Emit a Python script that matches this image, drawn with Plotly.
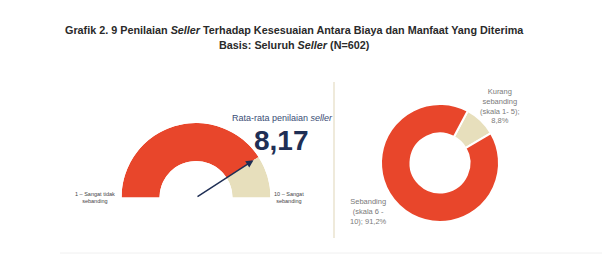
import math
import plotly.graph_objects as go

# ---- data ----
title_lines = ["<b>Grafik 2. 9 Penilaian <i>Seller</i> Terhadap Kesesuaian Antara Biaya dan Manfaat Yang Diterima</b>",
               "<b>Basis: Seluruh <i>Seller</i> (N=602)</b>"]
gauge_min, gauge_max = 0, 10
gauge_score = 8.17
gauge_score_label = "8,17"
gauge_caption = "Rata-rata penilaian <i>seller</i>"
gauge_end_labels = ["1 – Sangat tidak<br>sebanding", "10 – Sangat<br>sebanding"]
donut_labels = ["Kurang sebanding (skala 1- 5)", "Sebanding (skala 6 - 10)"]
donut_values = [8.8, 91.2]
donut_text = ["Kurang<br>sebanding<br>(skala 1- 5);<br>8,8%", "Sebanding<br>(skala 6 -<br>10); 91,2%"]

RED = "#E8462B"
BEIGE = "#E7DFBC"
NAVY = "#1F2F55"
GREY = "#7A7A7A"

W, H = 602, 259
# gauge geometry (pixels)
gcx, gcy, gR = 196, 197.5, 74.5
def px(x): return x / W
def py(y): return 1 - y / H

fig = go.Figure()

# gauge as polar bars
span_red = (gauge_score - gauge_min) / (gauge_max - gauge_min) * 180
span_rest = 180 - span_red
fig.add_trace(go.Barpolar(
    r=[1, 1], base=[0, 0],
    theta=[span_red / 2, span_red + span_rest / 2],
    width=[span_red, span_rest],
    marker=dict(color=[RED, BEIGE], line=dict(width=0)),
    hoverinfo="skip", showlegend=False, subplot="polar"))

fig.update_layout(polar=dict(
    domain=dict(x=[px(gcx - gR), px(gcx + gR)], y=[py(gcy), py(gcy - gR)]),
    sector=[0, 180], hole=0.49, bgcolor="rgba(0,0,0,0)",
    radialaxis=dict(visible=False, range=[0, 1]),
    angularaxis=dict(visible=False, direction="clockwise", rotation=180),
    bargap=0))

# donut
fig.add_trace(go.Pie(
    labels=donut_labels, values=donut_values, hole=0.5, sort=False,
    direction="clockwise", rotation=28,
    marker=dict(colors=[BEIGE, RED], line=dict(color="white", width=2)),
    textinfo="none", hoverinfo="skip", showlegend=False,
    domain=dict(x=[px(381), px(499)], y=[py(222), py(104)])))

def txt(text, x, y, size, color):
    return dict(text=text, x=px(x), y=py(y), xref="paper", yref="paper",
                xanchor="center", yanchor="middle", showarrow=False,
                font=dict(size=size, color=color))

ann = []
ann.append(txt(title_lines[0], 294, 30, 10.8, "#2A2A2A"))
ann.append(txt(title_lines[1], 294, 45, 10.8, "#2A2A2A"))
# arrow
ang = math.pi * (1 - (gauge_score - gauge_min) / (gauge_max - gauge_min))
L = 0.92 * gR
tipx, tipy = gcx + L * math.cos(ang), gcy - L * math.sin(ang)
ann.append(dict(x=px(tipx), y=py(tipy), ax=gcx - tipx, ay=gcy - tipy,
                xref="paper", yref="paper", axref="pixel", ayref="pixel",
                text="", showarrow=True,
                arrowhead=2, arrowsize=1, arrowwidth=1.5, arrowcolor=NAVY))
ann.append(txt(gauge_caption, 282, 118, 9, "#3A4D75"))
ann.append(txt("<b>%s</b>" % gauge_score_label, 281, 140, 28, NAVY))
ann.append(txt(gauge_end_labels[0], 95, 197, 5.5, "#444444"))
ann.append(txt(gauge_end_labels[1], 289, 197, 5.5, "#444444"))
ann.append(txt(donut_text[0], 500, 106, 7.5, GREY))
ann.append(txt(donut_text[1], 368, 211, 7.5, GREY))

shapes = [
    dict(type="line", xref="paper", yref="paper", x0=px(334), x1=px(334), y0=py(82), y1=py(238),
         line=dict(color="#EAE3CF", width=1.5)),
    dict(type="line", xref="paper", yref="paper", x0=px(60), x1=1, y0=py(253), y1=py(253),
         line=dict(color="#F0F0F0", width=1)),
]

fig.update_layout(width=W, height=H, margin=dict(l=0, r=0, t=0, b=0),
                  paper_bgcolor="white", plot_bgcolor="white",
                  font=dict(family="Liberation Sans, Arial, sans-serif"),
                  annotations=ann, shapes=shapes)

fig.write_html("out.html")
